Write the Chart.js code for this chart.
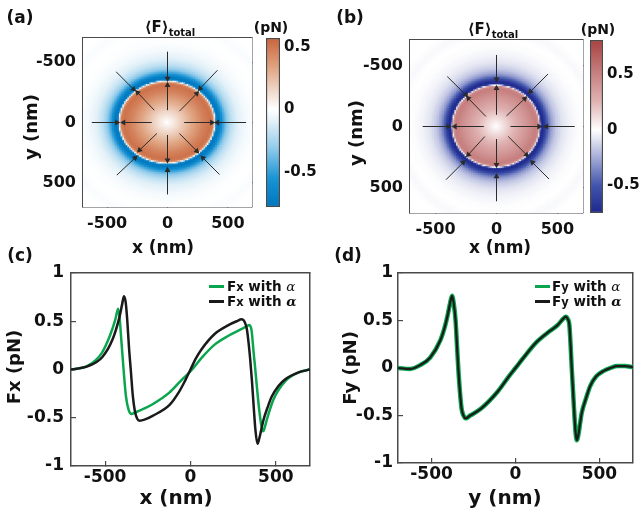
<!DOCTYPE html>
<html>
<head>
<meta charset="utf-8">
<script src="https://cdn.jsdelivr.net/npm/chart.js@4.4.1/dist/chart.umd.min.js"></script>
<style>
  html, body { margin: 0; padding: 0; background: #fff; }
  #fig { position: relative; width: 643px; height: 513px; overflow: hidden;
         font-family: "DejaVu Sans", sans-serif; font-weight: bold; color: #111; }
  #fig canvas { position: absolute; left: 0; top: 0; }
  .lbl { position: absolute; line-height: 1; white-space: nowrap; transform: translate(-50%, -50%); }
  .rot { transform: translate(-50%, -50%) rotate(-90deg); }
  .leg { position: absolute; line-height: 1; white-space: nowrap; font-size: 13.5px; transform: translate(0, -50%); }
  .sw { position: absolute; height: 3px; width: 15px; }
  .al { font-family: "DejaVu Serif", serif; font-style: italic; font-weight: normal; }
  .alb { font-family: "DejaVu Serif", serif; font-style: italic; font-weight: bold; }
</style>
</head>
<body>
<div id="fig">
  <canvas id="mapA" width="643" height="513"></canvas>
  <canvas id="barA" width="643" height="513"></canvas>
  <canvas id="mapB" width="643" height="513"></canvas>
  <canvas id="barB" width="643" height="513"></canvas>
  <canvas id="lineC" width="643" height="513"></canvas>
  <canvas id="lineD" width="643" height="513"></canvas>

  <div class="lbl" style="left:20px;top:17px;font-size:17px">(a)</div>
  <div class="lbl" style="left:350px;top:17px;font-size:17px">(b)</div>
  <div class="lbl" style="left:20px;top:255px;font-size:17px">(c)</div>
  <div class="lbl" style="left:348px;top:255px;font-size:17px">(d)</div>

  <div class="lbl" style="left:170px;top:27px;font-size:15px">&#10216;F&#10217;<span style="font-size:10px;position:relative;top:4px">total</span></div>
  <div class="lbl" style="left:493px;top:29px;font-size:15px">&#10216;F&#10217;<span style="font-size:10px;position:relative;top:4px">total</span></div>
  <div class="lbl" style="left:271px;top:27px;font-size:14px">(pN)</div>
  <div class="lbl" style="left:598px;top:29px;font-size:14px">(pN)</div>

  <div class="lbl rot" style="left:31px;top:127px;font-size:18px">y (nm)</div>
  <div class="lbl rot" style="left:356px;top:133px;font-size:18px">y (nm)</div>
  <div class="lbl" style="left:163px;top:247px;font-size:17px">x (nm)</div>
  <div class="lbl" style="left:500px;top:247px;font-size:17px">x (nm)</div>

  <div class="lbl rot" style="left:14px;top:367px;font-size:18px">Fx (pN)</div>
  <div class="lbl rot" style="left:350px;top:368px;font-size:18px">Fy (pN)</div>
  <div class="lbl" style="left:176px;top:497px;font-size:20px">x (nm)</div>
  <div class="lbl" style="left:505px;top:497px;font-size:20px">y (nm)</div>

  <div class="sw" style="left:209px;top:285px;background:#0aa64e"></div>
  <div class="leg" style="left:227px;top:287px">F<span style="font-size:0.85em">x</span> with <span class="al">&alpha;</span></div>
  <div class="sw" style="left:209px;top:300px;background:#1a1a1a"></div>
  <div class="leg" style="left:227px;top:302px">F<span style="font-size:0.85em">x</span> with <span class="alb">&alpha;</span></div>

  <div class="sw" style="left:535px;top:285px;background:#0aa64e"></div>
  <div class="leg" style="left:552px;top:287px">F<span style="font-size:0.85em">y</span> with <span class="al">&alpha;</span></div>
  <div class="sw" style="left:535px;top:300px;background:#1a1a1a"></div>
  <div class="leg" style="left:552px;top:302px">F<span style="font-size:0.85em">y</span> with <span class="alb">&alpha;</span></div>
</div>

<script>
const FONT = 'DejaVu Sans';
const BOX = '#4a4a4a';

// ---- maps (a) and (b): field profile ----
const mapTicks = [-500, 0, 500];

const ellipseA = [398, 340];          // semi axes (nm) of the white zero line
const insideRhoA = [0, 0.25, 0.5, 0.75, 0.9, 0.96, 1];
const insideValA = [0, 0.15, 0.31, 0.46, 0.52, 0.46, 0];
const outsideDistA = [0, 8, 20, 40, 65, 95, 135, 185, 250, 320, 400, 470, 540];
const outsideValA = [0, -0.65, -0.78, -0.7, -0.5, -0.32, -0.19, -0.1, -0.04, -0.01, 0, -0.02, 0];

const ellipseB = [360, 336];
const insideRhoB = [0, 0.25, 0.5, 0.75, 0.9, 0.965, 1];
const insideValB = [0, 0.15, 0.3, 0.43, 0.52, 0.47, 0];
const outsideDistB = [0, 8, 20, 38, 60, 90, 130, 180, 240, 310, 380, 450, 520];
const outsideValB = [0, -0.62, -0.75, -0.66, -0.48, -0.3, -0.17, -0.09, -0.04, -0.01, 0, -0.02, 0];

// arrows (nm): start and end points
const arrowsA = {
  sx: [0, 0, -627, 651, -425, 414, -420, 431, 0, 0, -130, 138, -110, 99, -88, 99],
  sy: [-585, 596, 0, 0, -420, -433, 436, 431, -102, 105, 0, 0, -102, -94, 91, 91],
  ex: [0, 0, -420, 414, -282, 270, -268, 293, 0, 0, -364, 367, -248, 243, -232, 243],
  ey: [-364, 395, 0, 0, -276, -282, 293, 293, -309, 312, 0, 0, -248, -240, 229, 237]
};
const arrowsB = {
  sx: [0, 0, -606, 642, -404, 423, -415, 431, 0, 0, -104, 115, -87, 82, -96, 96],
  sy: [-587, 614, 0, 0, -410, -431, 437, 431, -96, 104, 0, 0, -82, -87, 82, 82],
  ex: [0, 0, -396, 410, -251, 278, -273, 295, 0, 0, -341, 349, -232, 232, -232, 246],
  ey: [-388, 410, 0, 0, -259, -287, 295, 295, -314, 314, 0, 0, -232, -229, 232, 232]
};

// colour bars
const barTicks = [-0.5, 0, 0.5];
const cmapValsA = [-0.78, -0.55, -0.3, -0.1, 0, 0.15, 0.35, 0.57];
const cmapColsA = [[0,118,190],[25,148,212],[150,205,235],[225,240,248],[255,255,255],[240,215,200],[222,160,125],[200,100,60]];
const cmapValsB = [-0.75, -0.5, -0.25, -0.08, 0, 0.25, 0.5, 0.81];
const cmapColsB = [[30,40,140],[65,85,172],[165,172,215],[228,230,242],[255,255,255],[225,180,180],[200,130,130],[170,65,65]];

// ---- line plots (c) and (d) ----
const lineXTicks = [-500, 0, 500];
const lineYTicks = [-1, -0.5, 0, 0.5, 1];

const fxGreenX = [-700,-600,-520,-470,-440,-424,-416,-405,-392,-378,-362,-345,-330,-222,-124,-53,10,65,143,222,300,330,345,358,370,378,390,402,415,425,435,447,486,555,633,700];
const fxGreenY = [0,0.04,0.17,0.36,0.52,0.63,0.55,0.3,0,-0.28,-0.42,-0.46,-0.45,-0.36,-0.24,-0.11,0,0.12,0.26,0.35,0.42,0.45,0.46,0.4,0.17,0.03,-0.2,-0.41,-0.58,-0.64,-0.6,-0.52,-0.31,-0.12,-0.03,0];

const fxBlackX = [-700,-600,-516,-457,-418,-400,-390,-380,-370,-360,-350,-338,-326,-312,-298,-270,-222,-124,-70,-30,0,30,65,143,222,270,300,318,330,340,350,360,370,380,392,402,415,428,450,476,515,555,633,700];
const fxBlackY = [0,0.035,0.13,0.31,0.53,0.68,0.76,0.7,0.5,0.22,0,-0.27,-0.43,-0.51,-0.53,-0.52,-0.48,-0.37,-0.24,-0.11,0,0.11,0.21,0.37,0.46,0.5,0.52,0.49,0.42,0.28,0.1,-0.12,-0.38,-0.62,-0.77,-0.72,-0.62,-0.52,-0.4,-0.28,-0.17,-0.1,-0.03,0];

// both Fy curves lie on top of each other
const fyX = [-700,-628,-568,-508,-448,-420,-405,-390,-378,-368,-357,-349,-341,-331,-321,-310,-297,-270,-207,-107,-36,0,44,124,205,250,285,299,310,321,328,335,343,351,358,365,375,385,395,420,445,480,526,566,606,650,700];
const fyY = [0,-0.01,0.03,0.11,0.29,0.44,0.55,0.68,0.76,0.68,0.5,0.25,0,-0.25,-0.43,-0.5,-0.53,-0.5,-0.43,-0.25,-0.08,0,0.1,0.27,0.39,0.45,0.52,0.54,0.52,0.45,0.25,0,-0.25,-0.5,-0.68,-0.76,-0.7,-0.58,-0.47,-0.32,-0.19,-0.09,-0.03,0,0.02,0.02,0.01];

// ---- helpers ----
function lookup(xs, ys, v) {
  if (v <= xs[0]) return ys[0];
  for (let i = 1; i < xs.length; i++) {
    if (v <= xs[i]) {
      const t = (v - xs[i - 1]) / (xs[i] - xs[i - 1]);
      return ys[i - 1] + t * (ys[i] - ys[i - 1]);
    }
  }
  return ys[ys.length - 1];
}

function fieldAt(x, y, axes, inRho, inVal, outD, outVal) {
  const rho = Math.hypot(x / axes[0], y / axes[1]);
  if (rho <= 1) return lookup(inRho, inVal, rho);
  const r = Math.hypot(x, y);
  return lookup(outD, outVal, r - r / rho);
}

function colorOf(vals, cols, v) {
  const c = [0, 1, 2].map(k => Math.round(lookup(vals, cols.map(q => q[k]), v)));
  return 'rgb(' + c.join(',') + ')';
}

function buildCells(axes, inRho, inVal, outD, outVal, vals, cols) {
  const pts = [];
  const colors = [];
  for (let gx = -700; gx <= 700; gx += 14) {
    for (let gy = -700; gy <= 700; gy += 14) {
      pts.push({ x: gx, y: gy });
      colors.push(colorOf(vals, cols, fieldAt(gx, gy, axes, inRho, inVal, outD, outVal)));
    }
  }
  return { pts, colors };
}

function zip(xs, ys) {
  return xs.map((x, i) => ({ x: x, y: ys[i] }));
}

function ticksOf(list) {
  return s => { s.ticks = list.map(v => ({ value: v })); };
}

// axis boxes: y axes get 60px on the left, x axes 32px below
const YW = 60;
const XH = 32;
function padFor(a, yw, xh, rw) {
  return { left: a.l - yw, top: a.t, right: 643 - a.r - rw, bottom: 513 - a.b - xh };
}

function mainAxis(pos, lim, list, pad, size, reverse) {
  const horiz = pos === 'bottom';
  return {
    type: 'linear', position: pos, min: lim[0], max: lim[1], reverse: !!reverse,
    afterBuildTicks: ticksOf(list),
    afterFit: s => { if (horiz) s.height = XH; else s.width = YW; },
    ticks: { padding: pad, color: '#111', maxRotation: 0, autoSkip: false,
             callback: v => String(v),
             font: { family: FONT, size: size, weight: 'bold' } },
    grid: { drawOnChartArea: false, tickLength: -5, color: BOX, lineWidth: 1.2 },
    border: { color: BOX, width: 1.5 }
  };
}

function mirrorAxis(pos, lim, list, reverse, withTicks) {
  const horiz = pos === 'top';
  return {
    type: 'linear', position: pos, min: lim[0], max: lim[1], reverse: !!reverse,
    afterBuildTicks: ticksOf(list),
    afterFit: s => { if (horiz) s.height = 0; else s.width = 0; },
    ticks: { display: false },
    grid: { display: withTicks, drawOnChartArea: false, tickLength: -5, color: BOX, lineWidth: 1.2 },
    border: { color: BOX, width: 1.5 }
  };
}

function arrowSets(ar) {
  return ar.sx.map((sx, i) => {
    const dx = ar.ex[i] - sx;
    const dy = ar.ey[i] - ar.sy[i];
    const rot = Math.atan2(dx, -dy) * 180 / Math.PI;
    return {
      data: [{ x: sx, y: ar.sy[i] }, { x: ar.ex[i], y: ar.ey[i] }],
      showLine: true, borderColor: '#2b2b2b', borderWidth: 1,
      pointStyle: 'triangle', pointRadius: [0, 3.4], pointRotation: [0, rot],
      pointBackgroundColor: '#2b2b2b', pointBorderWidth: 0, order: 0
    };
  });
}

const baseOpts = {
  responsive: false, animation: false, devicePixelRatio: 1, events: [],
  plugins: { legend: { display: false }, tooltip: { enabled: false } }
};

function mapChart(id, area, lim, cells, arrows) {
  const datasets = arrowSets(arrows);
  datasets.push({
    data: cells.pts, pointStyle: 'rect', pointRadius: 1.75,
    pointBackgroundColor: cells.colors, pointBorderWidth: 0, order: 10
  });
  new Chart(document.getElementById(id), {
    type: 'scatter',
    data: { datasets },
    options: Object.assign({}, baseOpts, {
      layout: { padding: padFor(area, YW, XH, 0) },
      scales: {
        x: mainAxis('bottom', lim, mapTicks, 12, 16, false),
        y: mainAxis('left', lim, mapTicks, 12, 16, true),
        x2: mirrorAxis('top', lim, mapTicks, false, true),
        y2: mirrorAxis('right', lim, mapTicks, true, true)
      }
    })
  });
}

function colorBar(id, area, vals, cols, pad) {
  const lo = vals[0];
  const hi = vals[vals.length - 1];
  const rw = Math.min(40, 643 - area.r);
  new Chart(document.getElementById(id), {
    type: 'bar',
    data: {
      labels: [''],
      datasets: [{
        data: [[lo, hi]],
        backgroundColor: c => {
          const chart = c.chart;
          if (!chart.chartArea) return '#fff';
          const y = chart.scales.y;
          const g = chart.ctx.createLinearGradient(0, y.getPixelForValue(lo), 0, y.getPixelForValue(hi));
          vals.forEach((v, i) => g.addColorStop((v - lo) / (hi - lo), 'rgb(' + cols[i].join(',') + ')'));
          return g;
        },
        borderColor: BOX, borderWidth: 1.5, borderSkipped: false,
        barPercentage: 1, categoryPercentage: 1
      }]
    },
    options: Object.assign({}, baseOpts, {
      layout: { padding: padFor(area, 0, 0, rw) },
      scales: {
        x: { display: false },
        y: {
          position: 'right', min: lo, max: hi,
          afterBuildTicks: ticksOf(barTicks),
          afterFit: s => { s.width = rw; },
          ticks: { padding: pad, color: '#111', callback: v => String(v),
                   font: { family: FONT, size: 15, weight: 'bold' } },
          grid: { drawOnChartArea: false, tickLength: -3, color: BOX, lineWidth: 1.2 },
          border: { display: false }
        }
      }
    })
  });
}

function lineChart(id, area, datasets, padX, padY) {
  const lx = [-700, 700];
  const ly = [-1, 1];
  new Chart(document.getElementById(id), {
    type: 'scatter',
    data: { datasets },
    options: Object.assign({}, baseOpts, {
      layout: { padding: padFor(area, YW, XH, 0) },
      scales: {
        x: mainAxis('bottom', lx, lineXTicks, padX, 17, false),
        y: mainAxis('left', ly, lineYTicks, padY, 17, false),
        x2: mirrorAxis('top', lx, lineXTicks, false, false),
        y2: mirrorAxis('right', ly, lineYTicks, false, false)
      }
    })
  });
}

function curve(xs, ys, color, width, order) {
  return {
    data: zip(xs, ys), showLine: true, borderColor: color, borderWidth: width,
    pointRadius: 0, cubicInterpolationMode: 'monotone', order: order
  };
}

// ---- draw ----
const cellsA = buildCells(ellipseA, insideRhoA, insideValA, outsideDistA, outsideValA, cmapValsA, cmapColsA);
const cellsB = buildCells(ellipseB, insideRhoB, insideValB, outsideDistB, outsideValB, cmapValsB, cmapColsB);

mapChart('mapA', { l: 83, t: 38, r: 252, b: 207 }, [-700, 700], cellsA, arrowsA);
mapChart('mapB', { l: 410, t: 40, r: 583, b: 213 }, [-710, 710], cellsB, arrowsB);

colorBar('barA', { l: 266, t: 38, r: 280, b: 207 }, cmapValsA, cmapColsA, 7);
colorBar('barB', { l: 590, t: 40, r: 603, b: 213 }, cmapValsB, cmapColsB, 7);

lineChart('lineC', { l: 71, t: 273, r: 310, b: 466 }, [
  curve(fxBlackX, fxBlackY, '#1a1a1a', 2.5, 0),
  curve(fxGreenX, fxGreenY, '#0aa64e', 2.5, 1)
], 6, 12);

lineChart('lineD', { l: 398, t: 273, r: 633, b: 463 }, [
  curve(fyX, fyY, '#1a1a1a', 2.2, 0),
  curve(fyX, fyY, '#0aa64e', 4.5, 1)
], 6, 10);
</script>
</body>
</html>
